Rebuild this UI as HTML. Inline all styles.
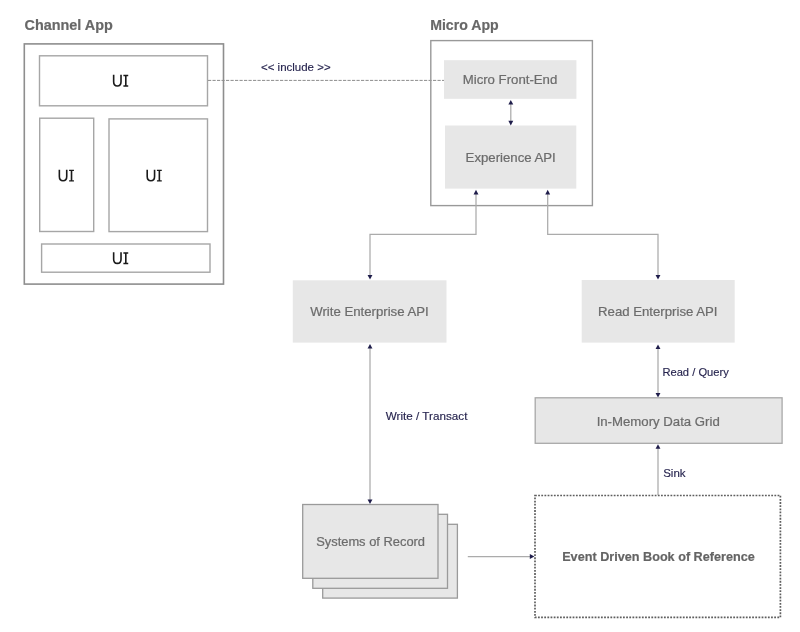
<!DOCTYPE html>
<html><head><meta charset="utf-8">
<style>
html,body{margin:0;padding:0;background:#fff;width:800px;height:632px;overflow:hidden}
svg{display:block;will-change:transform}
text{font-family:"Liberation Sans",sans-serif}
.t{fill:#686868;font-weight:bold;font-size:15px;stroke:#686868;stroke-width:0.2}
.bx{fill:#6c6c6c;font-size:13.2px;stroke:#6c6c6c;stroke-width:0.22}
.lb{fill:#27254f;font-size:11.5px;stroke:#27254f;stroke-width:0.15}
.ln{stroke:#ababab;stroke-width:1.25;fill:none}
.ah{fill:#1f1d4b}
</style></head>
<body>
<svg width="800" height="632" viewBox="0 0 800 632">

<text class="t" x="24.5" y="29.7" textLength="88.3" lengthAdjust="spacingAndGlyphs">Channel App</text>
<rect x="24.3" y="43.9" width="199.2" height="240.2" fill="none" stroke="#8e8e8e" stroke-width="1.6"/>
<rect x="39.5" y="55.8" width="168" height="50" fill="none" stroke="#a6a6a6" stroke-width="1.4"/>
<rect x="39.7" y="118.2" width="54" height="113.3" fill="none" stroke="#a6a6a6" stroke-width="1.4"/>
<rect x="109" y="118.9" width="98.5" height="112.7" fill="none" stroke="#a6a6a6" stroke-width="1.4"/>
<rect x="41.6" y="244.0" width="168.4" height="28.2" fill="none" stroke="#a6a6a6" stroke-width="1.4"/>
<g transform="translate(112.85 74.85)"><path d="M0.8 0 V6.9 C0.8 10.2 2.4 11.1 4.485 11.1 C6.57 11.1 8.17 10.2 8.17 6.9 V0" fill="none" stroke="#1a1a1a" stroke-width="1.6"/><path d="M10.54 0 H15.38 V1.4 H13.76 V10.5 H15.38 V11.9 H10.54 V10.5 H12.16 V1.4 H10.54 Z" fill="#1a1a1a"/></g>
<g transform="translate(58.56 169.7)"><path d="M0.8 0 V6.9 C0.8 10.2 2.4 11.1 4.485 11.1 C6.57 11.1 8.17 10.2 8.17 6.9 V0" fill="none" stroke="#1a1a1a" stroke-width="1.6"/><path d="M10.54 0 H15.38 V1.4 H13.76 V10.5 H15.38 V11.9 H10.54 V10.5 H12.16 V1.4 H10.54 Z" fill="#1a1a1a"/></g>
<g transform="translate(146.4 169.7)"><path d="M0.8 0 V6.9 C0.8 10.2 2.4 11.1 4.485 11.1 C6.57 11.1 8.17 10.2 8.17 6.9 V0" fill="none" stroke="#1a1a1a" stroke-width="1.6"/><path d="M10.54 0 H15.38 V1.4 H13.76 V10.5 H15.38 V11.9 H10.54 V10.5 H12.16 V1.4 H10.54 Z" fill="#1a1a1a"/></g>
<g transform="translate(112.85 252.3)"><path d="M0.8 0 V6.9 C0.8 10.2 2.4 11.1 4.485 11.1 C6.57 11.1 8.17 10.2 8.17 6.9 V0" fill="none" stroke="#1a1a1a" stroke-width="1.6"/><path d="M10.54 0 H15.38 V1.4 H13.76 V10.5 H15.38 V11.9 H10.54 V10.5 H12.16 V1.4 H10.54 Z" fill="#1a1a1a"/></g>
<line x1="208" y1="80.4" x2="444" y2="80.4" stroke="#8c8c8c" stroke-width="1" stroke-dasharray="3.2 1.3"/>
<text class="lb" x="261" y="71.3" textLength="69.6" lengthAdjust="spacingAndGlyphs">&lt;&lt; include &gt;&gt;</text>
<text class="t" x="430.2" y="30.3" textLength="68.5" lengthAdjust="spacingAndGlyphs">Micro App</text>
<rect x="430.8" y="40.6" width="161.6" height="165" fill="none" stroke="#999" stroke-width="1.4"/>
<rect x="444" y="60.2" width="132.4" height="38.6" fill="#e7e7e7"/>
<text class="bx" x="510" y="84" text-anchor="middle">Micro Front-End</text>
<rect x="445" y="125.5" width="131.3" height="63.1" fill="#e7e7e7"/>
<text class="bx" x="510.7" y="161.9" text-anchor="middle">Experience API</text>
<line class="ln" x1="510.8" y1="103" x2="510.8" y2="122"/>
<path class="ah" d="M510.8 100 L508.35 104.60 L513.25 104.60 Z"/>
<path class="ah" d="M510.8 125.4 L508.35 120.80 L513.25 120.80 Z"/>
<path class="ln" d="M476 193 V234.3 H370 V276"/>
<path class="ah" d="M476 189.8 L473.55 194.40 L478.45 194.40 Z"/>
<path class="ah" d="M370 279.6 L367.55 275.00 L372.45 275.00 Z"/>
<path class="ln" d="M547.7 193 V234.3 H658 V276"/>
<path class="ah" d="M547.7 189.8 L545.25 194.40 L550.15 194.40 Z"/>
<path class="ah" d="M658 279.6 L655.55 275.00 L660.45 275.00 Z"/>
<rect x="292.8" y="280.3" width="153.7" height="62.3" fill="#e7e7e7"/>
<text class="bx" x="369.5" y="316.1" text-anchor="middle">Write Enterprise API</text>
<rect x="581.7" y="280" width="153" height="62.6" fill="#e7e7e7"/>
<text class="bx" x="657.8" y="316.1" text-anchor="middle">Read Enterprise API</text>
<line class="ln" x1="370" y1="348" x2="370" y2="500"/>
<path class="ah" d="M370 344 L367.55 348.60 L372.45 348.60 Z"/>
<path class="ah" d="M370 504 L367.55 499.40 L372.45 499.40 Z"/>
<text class="lb" x="385.8" y="419.9" textLength="81.6" lengthAdjust="spacingAndGlyphs">Write / Transact</text>
<line class="ln" x1="658" y1="347" x2="658" y2="394"/>
<path class="ah" d="M658 344.4 L655.55 349.00 L660.45 349.00 Z"/>
<path class="ah" d="M658 397.6 L655.55 393.00 L660.45 393.00 Z"/>
<text class="lb" x="662.4" y="375.6" textLength="66.4" lengthAdjust="spacingAndGlyphs">Read / Query</text>
<rect x="535.2" y="397.8" width="246.9" height="45.5" fill="#e7e7e7" stroke="#a8a8a8" stroke-width="1.3"/>
<text class="bx" x="658.2" y="425.8" text-anchor="middle">In-Memory Data Grid</text>
<line class="ln" x1="658" y1="448" x2="658" y2="495"/>
<path class="ah" d="M658 444.2 L655.55 448.80 L660.45 448.80 Z"/>
<text class="lb" x="663.2" y="476.7" textLength="22.4" lengthAdjust="spacingAndGlyphs">Sink</text>
<rect x="322.7" y="524.3" width="134.7" height="73.8" fill="#e7e7e7" stroke="#9a9a9a" stroke-width="1.3"/>
<rect x="312.8" y="514.3" width="134.7" height="74" fill="#e7e7e7" stroke="#9a9a9a" stroke-width="1.3"/>
<rect x="302.7" y="504.5" width="135.3" height="73.8" fill="#e7e7e7" stroke="#9a9a9a" stroke-width="1.3"/>
<text class="bx" x="370.6" y="546.1" text-anchor="middle" style="font-size:12.9px">Systems of Record</text>
<line class="ln" x1="467.8" y1="556.5" x2="530" y2="556.5"/>
<path class="ah" d="M534.4 556.5 L529.80 554.05 L529.80 558.95 Z"/>
<rect x="535.0" y="495.5" width="245.4" height="121.9" fill="none" stroke="#5e5e5e" stroke-width="1.7" stroke-dasharray="1.8 1.35"/>
<text x="562.2" y="561.1" textLength="192.6" lengthAdjust="spacingAndGlyphs" style="fill:#646464;stroke:#646464;stroke-width:0.2;font-weight:bold;font-size:13px">Event Driven Book of Reference</text>
</svg>
</body></html>
